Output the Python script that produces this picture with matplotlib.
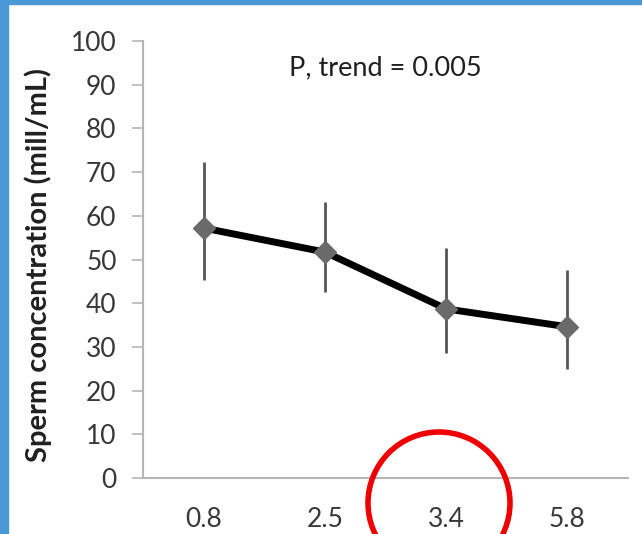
import matplotlib
matplotlib.use('Agg')
import matplotlib.pyplot as plt
from matplotlib.patches import Rectangle, Ellipse

# data
doses = ['0.8', '2.5', '3.4', '5.8']
conc = [57.2, 51.7, 38.7, 34.6]
err_hi = [72.3, 63.2, 52.6, 47.6]
err_lo = [45.3, 42.6, 28.6, 24.9]
y_ticks = list(range(0, 101, 10))

plt.rcParams['font.family'] = ['Lato', 'DejaVu Sans']
text_col = '#383838'

fig = plt.figure(figsize=(6.42, 5.34), dpi=100)
ax = fig.add_axes([143 / 642, 56 / 534, 485 / 642, 437 / 534])

xs = list(range(len(doses)))
yerr = [[c - lo for c, lo in zip(conc, err_lo)], [hi - c for c, hi in zip(conc, err_hi)]]
ax.errorbar(xs, conc, yerr=yerr, fmt='none', ecolor='#555555', elinewidth=2, capsize=0, zorder=2)
ax.plot(xs, conc, color='black', linewidth=5, zorder=3)
ax.plot(xs, conc, linestyle='none', marker='D', markersize=11, color='#6a6a6a', zorder=4)

ax.set_xlim(-0.5, len(doses) - 0.5)
ax.set_ylim(0, 100)
ax.set_xticks(xs)
ax.set_xticklabels(doses)
ax.set_yticks(y_ticks)

ax.spines['right'].set_visible(False)
ax.spines['top'].set_visible(False)
for s in ['left', 'bottom']:
    ax.spines[s].set_color('#b5b5b5')
    ax.spines[s].set_linewidth(1.5)

ax.tick_params(axis='y', length=8, width=1.2, color='#b5b5b5', pad=11, labelsize=19, labelcolor=text_col)
ax.tick_params(axis='x', length=0, pad=21, labelsize=19, labelcolor=text_col)

ax.set_ylabel('Sperm concentration (mill/mL)', fontsize=21, fontweight='bold', color='#202020')
ax.yaxis.set_label_coords(-0.188, 0.487)

ax.text(1.5, 93.8, 'P, trend = 0.005', ha='center', va='center', fontsize=19.5, color='#202020')

# blue frame bits on the left and top edges
blue = '#4a98d6'
fig.patches.append(Rectangle((0, 0), 8 / 642, 1, transform=fig.transFigure, color=blue, zorder=0))
fig.patches.append(Rectangle((0, 1 - 4 / 534), 1, 4 / 534, transform=fig.transFigure, color=blue, zorder=0))

# red circle around the 3.4 label
fig.patches.append(Ellipse((439 / 642, (534 - 503) / 534), 142 / 642, 142 / 534, transform=fig.transFigure,
                           fill=False, edgecolor='#ee0000', linewidth=4, zorder=5))

fig.savefig('out.png', dpi=100)
